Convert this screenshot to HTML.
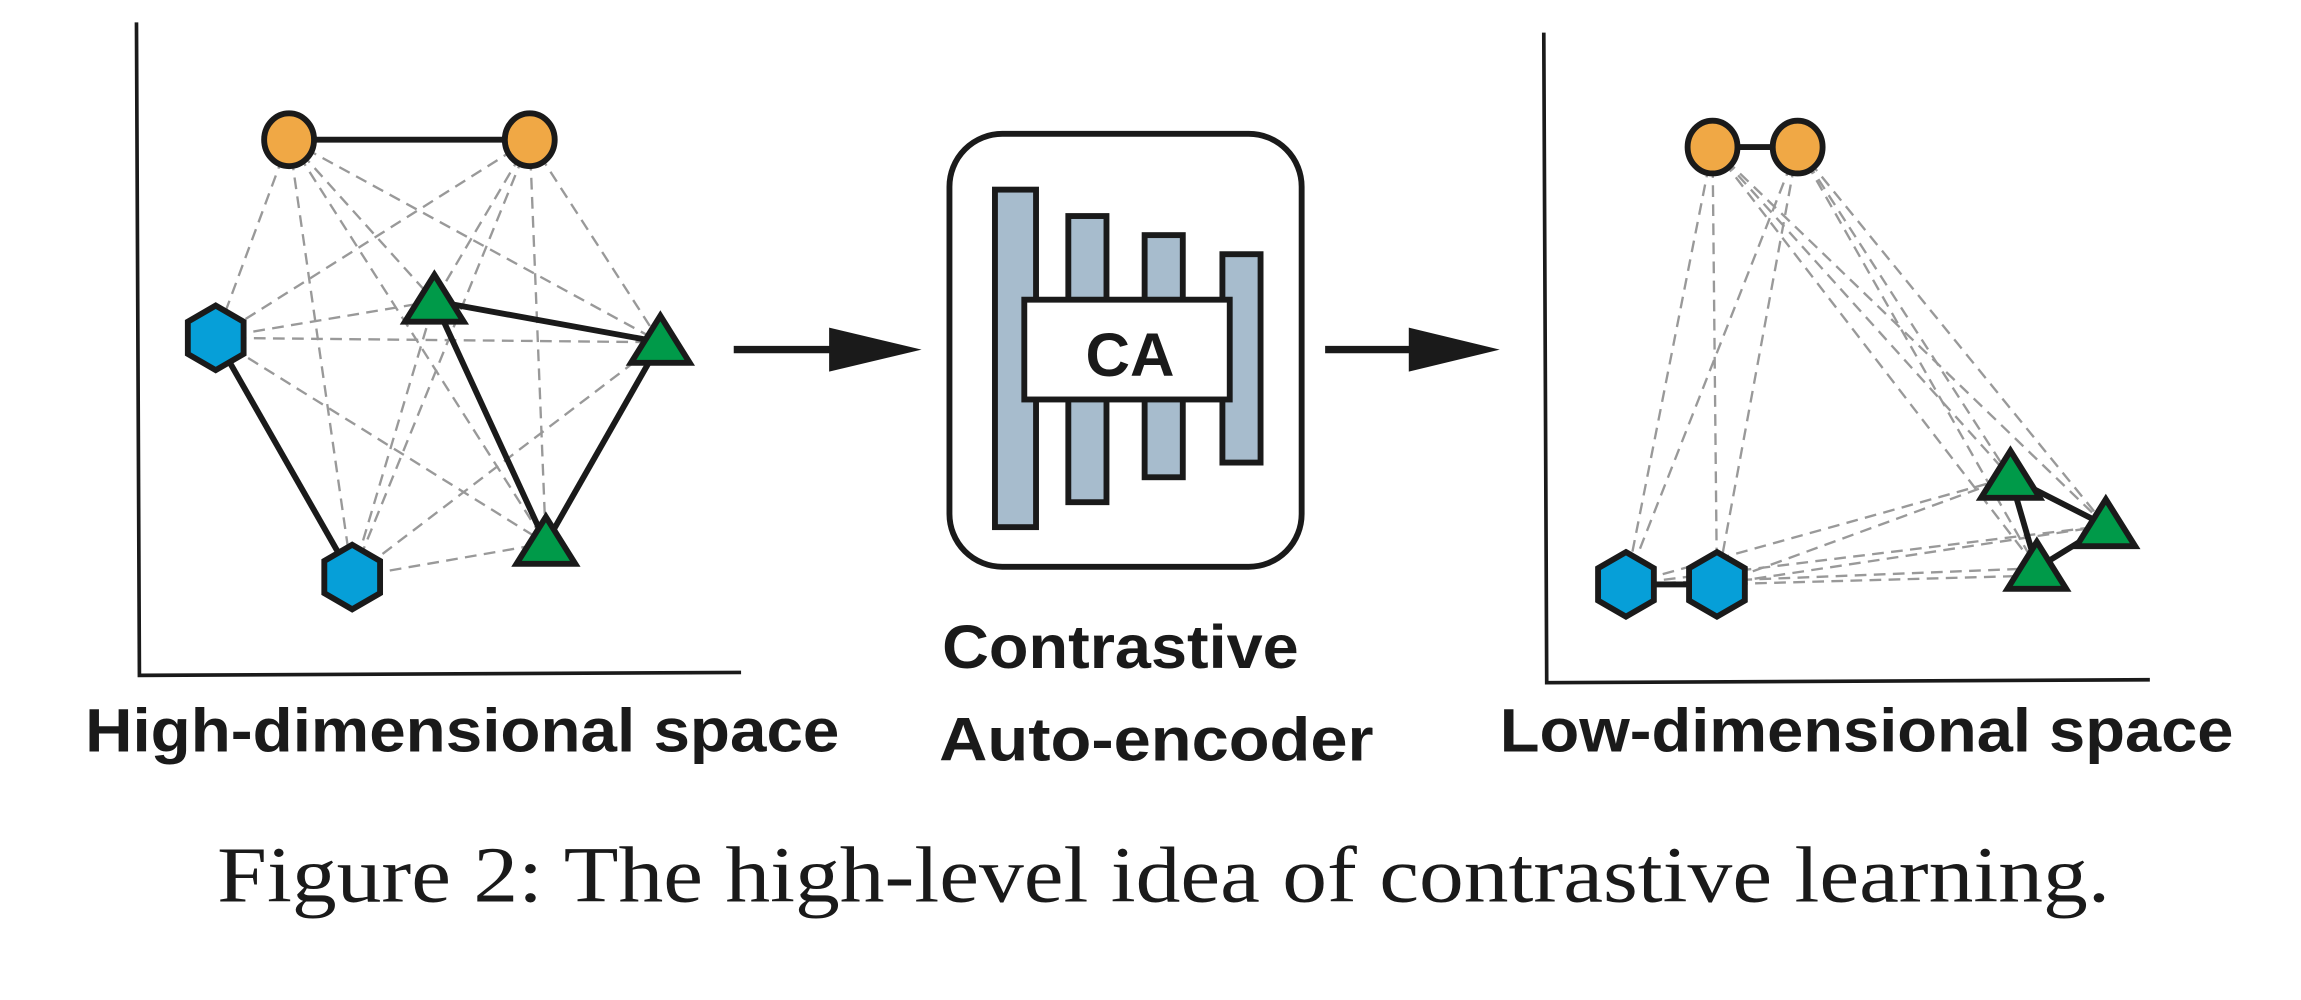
<!DOCTYPE html>
<html><head><meta charset="utf-8"><style>
html,body{margin:0;padding:0;background:#fff;}
svg{display:block;}
.sans{font-family:"Liberation Sans",Arial,sans-serif;font-weight:bold;}
.serif{font-family:"Liberation Serif","Times New Roman",serif;}
</style></head><body>
<svg width="2301" height="1000" viewBox="0 0 1568 681" xmlns="http://www.w3.org/2000/svg">
<defs>
<g id="hex"><polygon points="0,-22 19,-11 19,11 0,22 -19,11 -19,-11" fill="#069fd8" stroke="#1a1a1a" stroke-width="4" stroke-linejoin="miter"/></g>
<g id="tri"><polygon points="0,-18 20,14 -20,14" fill="#009a49" stroke="#1a1a1a" stroke-width="4" stroke-linejoin="miter"/></g>
<g id="circ"><ellipse cx="0" cy="0" rx="17" ry="18" fill="#f0a845" stroke="#1a1a1a" stroke-width="4"/></g>
</defs>
<rect width="1568" height="681" fill="#fff"/>
<path d="M93,15 L95,460 L505,458" fill="none" stroke="#1a1a1a" stroke-width="2.5"/>
<g stroke="#999" stroke-width="1.6" stroke-dasharray="8,5" fill="none">
<line x1="197" y1="95" x2="147" y2="230"/>
<line x1="197" y1="95" x2="240" y2="393"/>
<line x1="197" y1="95" x2="296" y2="205"/>
<line x1="197" y1="95" x2="450" y2="233"/>
<line x1="197" y1="95" x2="372" y2="370"/>
<line x1="361" y1="95" x2="147" y2="230"/>
<line x1="361" y1="95" x2="240" y2="393"/>
<line x1="361" y1="95" x2="296" y2="205"/>
<line x1="361" y1="95" x2="450" y2="233"/>
<line x1="361" y1="95" x2="372" y2="370"/>
<line x1="147" y1="230" x2="296" y2="205"/>
<line x1="147" y1="230" x2="450" y2="233"/>
<line x1="147" y1="230" x2="372" y2="370"/>
<line x1="240" y1="393" x2="296" y2="205"/>
<line x1="240" y1="393" x2="450" y2="233"/>
<line x1="240" y1="393" x2="372" y2="370"/>
</g>
<g stroke="#1a1a1a" stroke-width="4">
<line x1="197" y1="95" x2="361" y2="95"/>
<line x1="147" y1="230" x2="240" y2="393"/>
<line x1="296" y1="205" x2="450" y2="233"/>
<line x1="296" y1="205" x2="372" y2="370"/>
<line x1="450" y1="233" x2="372" y2="370"/>
</g>
<use href="#circ" x="197" y="95"/><use href="#circ" x="361" y="95"/>
<use href="#hex" x="147" y="230"/><use href="#hex" x="240" y="393"/>
<use href="#tri" x="296" y="205"/><use href="#tri" x="450" y="233"/><use href="#tri" x="372" y="370"/>
<line x1="500" y1="238" x2="575" y2="238" stroke="#1a1a1a" stroke-width="5"/>
<polygon points="565,223 628,238 565,253" fill="#1a1a1a"/>
<line x1="903" y1="238" x2="970" y2="238" stroke="#1a1a1a" stroke-width="5"/>
<polygon points="960,223 1022,238 960,253" fill="#1a1a1a"/>
<rect x="647" y="91" width="240" height="295" rx="36" fill="#fff" stroke="#1a1a1a" stroke-width="4"/>
<g fill="#a7bccd" stroke="#1a1a1a" stroke-width="4">
<rect x="678" y="129" width="28" height="230"/>
<rect x="728" y="147" width="26" height="195"/>
<rect x="780" y="160" width="26" height="165"/>
<rect x="833" y="173" width="26" height="142"/>
</g>
<rect x="698" y="204" width="140" height="68" fill="#fff" stroke="#1a1a1a" stroke-width="4"/>
<text class="sans" x="770" y="256" text-anchor="middle" font-size="42" fill="#1a1a1a">CA</text>
<path d="M1052,22 L1054,465 L1465,463" fill="none" stroke="#1a1a1a" stroke-width="2.5"/>
<g stroke="#999" stroke-width="1.6" stroke-dasharray="8,5" fill="none">
<line x1="1167" y1="100" x2="1108" y2="398"/>
<line x1="1167" y1="100" x2="1170" y2="398"/>
<line x1="1167" y1="100" x2="1370" y2="325"/>
<line x1="1167" y1="100" x2="1435" y2="358"/>
<line x1="1167" y1="100" x2="1388" y2="387"/>
<line x1="1225" y1="100" x2="1108" y2="398"/>
<line x1="1225" y1="100" x2="1170" y2="398"/>
<line x1="1225" y1="100" x2="1370" y2="325"/>
<line x1="1225" y1="100" x2="1435" y2="358"/>
<line x1="1225" y1="100" x2="1388" y2="387"/>
<line x1="1108" y1="398" x2="1370" y2="325"/>
<line x1="1108" y1="398" x2="1435" y2="358"/>
<line x1="1108" y1="398" x2="1388" y2="387"/>
<line x1="1170" y1="398" x2="1370" y2="325"/>
<line x1="1170" y1="398" x2="1435" y2="358"/>
<line x1="1170" y1="398" x2="1388" y2="392"/>
</g>
<g stroke="#1a1a1a" stroke-width="4">
<line x1="1167" y1="100" x2="1225" y2="100"/>
<line x1="1108" y1="398" x2="1170" y2="398"/>
<line x1="1370" y1="325" x2="1435" y2="358"/>
<line x1="1370" y1="325" x2="1388" y2="387"/>
<line x1="1435" y1="358" x2="1388" y2="387"/>
</g>
<use href="#circ" x="1167" y="100"/><use href="#circ" x="1225" y="100"/>
<use href="#hex" x="1108" y="398"/><use href="#hex" x="1170" y="398"/>
<use href="#tri" x="1370" y="325"/><use href="#tri" x="1435" y="358"/><use href="#tri" x="1388" y="387"/>
<g class="sans" font-size="42" fill="#1a1a1a">
<text x="58" y="512" textLength="514" lengthAdjust="spacingAndGlyphs">High-dimensional space</text>
<text x="642" y="455" textLength="243" lengthAdjust="spacingAndGlyphs">Contrastive</text>
<text x="640" y="518" textLength="296" lengthAdjust="spacingAndGlyphs">Auto-encoder</text>
<text x="1022" y="512" textLength="500" lengthAdjust="spacingAndGlyphs">Low-dimensional space</text>
</g>
<text class="serif" x="148" y="614" font-size="54" fill="#1a1a1a" textLength="1290" lengthAdjust="spacingAndGlyphs">Figure 2: The high-level idea of contrastive learning.</text>
</svg>
</body></html>
